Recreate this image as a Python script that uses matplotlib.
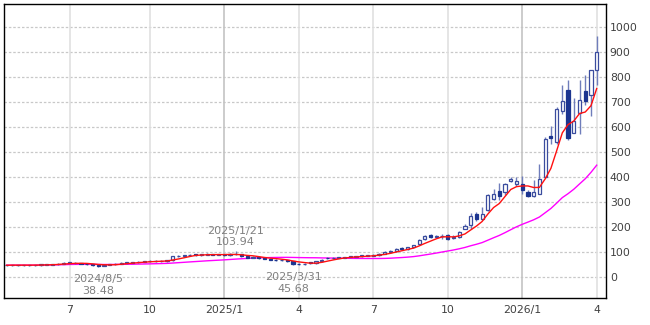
import matplotlib
matplotlib.use("Agg")
import matplotlib.pyplot as plt
import numpy as np
import pandas as pd

# ---- data (weekly OHLC) ----
start_date = "2024-04-15"
opens = [47, 46, 47, 46, 47, 46, 47, 48, 49, 50,
         52, 55, 56, 54, 52, 50, 46, 44, 48, 50,
         53, 55, 56, 58, 60, 62, 63, 62, 63, 67,
         82, 84, 86, 88, 87, 89, 90, 88, 89, 87,
         92, 90, 82, 76, 79, 76, 73, 69, 66, 67,
         62, 52, 50, 56, 55, 62, 76, 74, 77, 77,
         79, 80, 83, 84, 85, 87, 92, 100, 104, 114,
         112, 118, 132, 150, 166, 160, 162, 168, 155, 160,
         193, 208, 252, 230, 268, 313, 343, 340, 383, 372,
         371, 340, 323, 333, 400, 563, 540, 664, 747, 577,
         657, 744, 727, 829]
closes = [46, 47, 46, 47, 46, 47, 48, 49, 50, 52,
          55, 56, 54, 52, 50, 46, 44, 48, 50, 53,
          55, 56, 58, 60, 62, 63, 62, 63, 65, 82,
          84, 86, 88, 87, 89, 90, 88, 89, 87, 92,
          90, 82, 76, 79, 76, 73, 69, 66, 67, 62,
          52, 50, 53, 55, 62, 68, 74, 77, 77, 79,
          80, 83, 84, 85, 87, 92, 100, 104, 112, 112,
          118, 126, 148, 163, 158, 164, 163, 152, 160, 178,
          203, 242, 230, 252, 327, 333, 323, 371, 391, 384,
          347, 323, 340, 393, 553, 557, 673, 703, 557, 624,
          707, 704, 829, 900]
highs = [49, 49, 48, 49, 48, 49, 50, 51, 53, 55,
         58, 59, 58, 56, 54, 52, 48, 50, 52, 55,
         58, 59, 61, 63, 65, 66, 66, 66, 68, 85,
         88, 89, 91, 91, 92, 94, 93, 92, 91, 96,
         103.94, 92, 84, 82, 81, 78, 75, 71, 70, 69,
         64, 55, 56, 58, 64, 70, 80, 79, 80, 81,
         83, 85, 87, 88, 90, 95, 103, 107, 115, 118,
         121, 129, 152, 168, 170, 168, 170, 172, 166, 182,
         210, 256, 260, 280, 330, 353, 376, 375, 400, 400,
         403, 347, 387, 453, 560, 603, 680, 767, 787, 717,
         787, 807, 829, 964]
lows = [44, 44, 44, 45, 44, 45, 45, 46, 47, 48,
        50, 52, 51, 50, 48, 44, 38.48, 42, 46, 48,
        51, 53, 54, 56, 58, 60, 59, 60, 61, 65,
        80, 82, 84, 85, 85, 87, 86, 86, 85, 85,
        88, 78, 74, 74, 73, 70, 67, 63, 63, 60,
        45.68, 47, 48, 52, 53, 60, 72, 72, 75, 75,
        77, 78, 81, 82, 83, 85, 90, 97, 101, 108,
        109, 115, 128, 146, 154, 156, 152, 148, 151, 156,
        190, 193, 222, 226, 262, 308, 309, 327, 378, 365,
        331, 318, 320, 330, 395, 533, 531, 653, 549, 575,
        573, 687, 643, 767]

ma_short = 5
ma_long = 26

ann_dates = ["2024/8/5", "2025/1/21", "2025/3/31"]
ann_values = ["38.48", "103.94", "45.68"]
ann_kind = ["low", "high", "low"]

y_ticks = [0, 100, 200, 300, 400, 500, 600, 700, 800, 900, 1000]

# ---- derived ----
n = len(closes)
dates = pd.date_range(start_date, periods=n, freq="7D")
x = np.arange(n)
o = np.array(opens, float); c = np.array(closes, float)
h = np.array(highs, float); l = np.array(lows, float)
s = pd.Series(c)
ma1 = s.rolling(ma_short, min_periods=1).mean().values
ma2 = s.rolling(ma_long, min_periods=1).mean().values

tick_pos, tick_lab = [], []
for i in range(1, n):
    if dates[i].month != dates[i - 1].month and dates[i].month in (1, 4, 7, 10):
        tick_pos.append(i)
        tick_lab.append(f"{dates[i].year}/1" if dates[i].month == 1 else str(dates[i].month))

fig = plt.figure(figsize=(6.5, 3.25), dpi=100)
ax = fig.add_axes([4 / 650, 1 - 298 / 325, 601.7 / 650, 294 / 325])

ax.set_xlim(-0.45, n - 1 + 1.57)
ax.set_ylim(-85, 1091)

# grid
for yt in y_ticks:
    ax.axhline(yt, color="#c8c8c8", lw=0.9, ls=(0, (2, 1.5)), zorder=0)
for p, lab in zip(tick_pos, tick_lab):
    col = "#c4c4c4" if "/" in lab else "#e0e0e0"
    ax.axvline(p, color=col, lw=1.2, zorder=0)

# moving averages
ax.plot(x, ma2, color="#ff00ff", lw=1.0, zorder=2)

# candles
wick_col = "#6f7dbb"
edge_col = "#3a4c9e"
fill_col = "#1c3590"
ax.vlines(x, l, h, color=wick_col, lw=1.0, zorder=3)
up = c >= o
bottoms = np.minimum(o, c)
heights = np.maximum(np.abs(c - o), 2.5)
ax.bar(x[up], heights[up], bottom=bottoms[up], width=0.55,
       facecolor="white", edgecolor=edge_col, lw=0.9, zorder=4)
ax.bar(x[~up], heights[~up], bottom=bottoms[~up], width=0.55,
       facecolor=fill_col, edgecolor=fill_col, lw=0.9, zorder=4)

ax.plot(x, ma1, color="#ff1010", lw=1.0, zorder=5)

# annotations
start = pd.Timestamp(start_date)
for d, v, k in zip(ann_dates, ann_values, ann_kind):
    idx = (pd.Timestamp(d.replace("/", "-")) - start).days // 7
    if k == "low":
        ax.annotate(f"{d}\n{v}", xy=(idx, l[idx]), xytext=(0, -5), textcoords="offset points",
                    ha="center", va="top", fontsize=8, color="#808080", linespacing=1.2,
                    zorder=6)
    else:
        ax.annotate(f"{d}\n{v}", xy=(idx, h[idx]), xytext=(0, 2.5), textcoords="offset points",
                    ha="center", va="bottom", fontsize=8, color="#808080", linespacing=1.2,
                    zorder=6)

# axes styling
ax.set_xticks(tick_pos)
ax.set_xticklabels(tick_lab)
ax.set_yticks(y_ticks)
ax.yaxis.tick_right()
ax.tick_params(axis="y", length=0, pad=3, labelsize=7.8, labelcolor="#404040")
ax.tick_params(axis="x", length=0, pad=5, labelsize=7.8, labelcolor="#404040")
for sp in ax.spines.values():
    sp.set_color("black")
    sp.set_linewidth(1.0)

fig.savefig("out.png", dpi=100)
